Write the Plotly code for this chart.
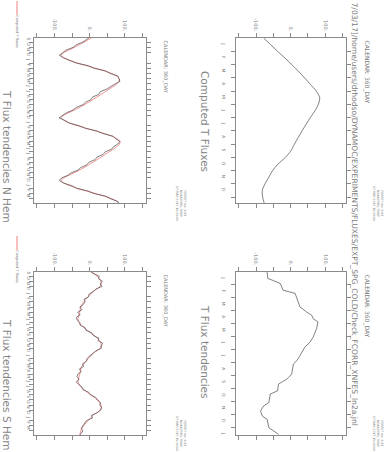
import plotly.graph_objects as go

# ---------------- data ----------------
MONTH_LETTERS = ["J", "F", "M", "A", "M", "J", "J", "A", "S", "O", "N", "D"]
YEAR_LABELS = ["0000", "0001", "0002", "0003"]
YEAR_LABEL_POS = [-2.2, 6.0, 18.0, 25.6]
YEAR_BOUNDS = [0, 12, 24]
VALUE_LABELS = ["-100.", "0.", "100."]
VALUE_LABEL_POS = [-100, 0, 100]
VALUE_MINOR = [-150, -50, 50, 150]

# left panels: months since 1 Jan 0001, half-month sampling
t_left = [-4.0 + 0.5 * i for i in range(65)]

nh_computed = [9, -3, -16, -29, -44, -59, -74, -81,
               -72, -56, -34, -9, 17, 42, 63, 78, 85, 84, 77, 67, 55, 44, 33, 21, 9, -3, -16, -29, -44, -59, -74, -81,
               -72, -56, -34, -9, 17, 42, 63, 78, 86, 85, 77, 67, 55, 44, 33, 21, 9, -3, -16, -29, -44, -59, -74, -81,
               -72, -56, -34, -9, 17, 42, 63, 78, 85]
nh_tend = [2, -10, -20, -38, -47, -66, -77, -86,
           -75, -54, -38, -4, 12, 45, 58, 80, 83, 86, 72, 60, 48, 30, 26, 8, 4, -12, -19, -38, -47, -65, -76, -87,
           -70, -58, -30, -12, 20, 38, 66, 74, 86, 80, 68, 62, 44, 38, 21, 15, -2, -8, -25, -33, -52, -62, -80, -86,
           -74, -50, -37, -5, 13, 46, 60, 80, 84]

sh_computed = [3, 13, 21, 28, 32, 33, 29, 20,
               8, 3, -4, -11, -17, -22, -25, -27, -28, -30, -32, -33, -30, -24, -16, -7, 3, 13, 21, 28, 32, 33, 29, 20,
               8, 3, -4, -11, -17, -22, -25, -27, -28, -30, -32, -33, -30, -24, -16, -7, 3, 13, 21, 28, 32, 33, 29, 20,
               8, 3, -4, -11, -17, -22, -25, -27, -28]
sh_tend = [0, 10, 27, 25, 36, 30, 35, 18,
           11, -2, -3, -16, -13, -18, -28, -22, -34, -27, -38, -35, -28, -27, -13, -10, 6, 10, 26, 24, 37, 33, 33, 17,
           10, -1, -7, -9, -20, -17, -29, -24, -33, -36, -30, -38, -31, -22, -19, -3, 2, 17, 23, 31, 29, 34, 31, 21,
           5, 8, -9, -14, -20, -24, -19, -24, -30]

# right panels: months since 1 Jan (climatological year)
clim_t = [0.5 * i for i in range(26)]
clim_flux = [-78, -58, -38, -17, 3, 22, 40, 57, 74, 84, 80, 70, 57, 45, 33, 22, 11, 1,
             -15, -36, -52, -63, -74, -82, -81, -76]

tend_t = [0.0, 0.49, 0.88, 1.26, 1.4, 1.65, 2.43, 2.69, 3.08, 3.33, 3.59, 3.85, 4.36, 5.02, 5.4,
          5.79, 6.43, 6.82, 7.08, 7.85, 8.12, 8.24, 8.63, 9.15, 9.4, 10.05, 10.31, 10.7, 11.09,
          11.34, 11.99, 12.25, 12.5]
tend_v = [-68, -66, -30, -25, -22, 13, 22, 27, 46, 61, 65, 79, 75, 65, 56, 41, 27, 18, 8, 3, -6,
          -11, -35, -38, -59, -63, -78, -87, -82, -68, -63, -49, -35]

# ---------------- style ----------------
W, H = 387, 452
AX = "#8a8a8a"
TXT = "#7a7a7a"
TITLE = "#858585"
BLACK = "#4a4a4a"
RED = "#f28080"
FONT = "DejaVu Sans"
VRANGE = [-158, 160]


def px(x):
    return x / W


def py(y):
    return 1 - y / H


TL_X = [px(34), px(146)]
TR_X = [px(236), px(346)]
TOP_Y = [py(203), py(38)]
BOT_Y = [py(435), py(272)]

fig = go.Figure()

line_k = dict(color=BLACK, width=0.7)
line_r = dict(color=RED, width=0.9, shape="spline", smoothing=0.6)

# TL : N Hem
fig.add_trace(go.Scatter(x=nh_computed, y=t_left, mode="lines", line=line_r, xaxis="x", yaxis="y", showlegend=False))
fig.add_trace(go.Scatter(x=nh_tend, y=t_left, mode="lines", line=line_k, xaxis="x", yaxis="y", showlegend=False))
# TR : computed fluxes
fig.add_trace(go.Scatter(x=clim_flux, y=clim_t, mode="lines",
                         line=dict(color=BLACK, width=0.7, shape="spline", smoothing=0.8),
                         xaxis="x2", yaxis="y2", showlegend=False))
# BL : S Hem
fig.add_trace(go.Scatter(x=sh_computed, y=t_left, mode="lines", line=line_r, xaxis="x3", yaxis="y3", showlegend=False))
fig.add_trace(go.Scatter(x=sh_tend, y=t_left, mode="lines", line=line_k, xaxis="x3", yaxis="y3", showlegend=False))
# BR : tendencies
fig.add_trace(go.Scatter(x=tend_v, y=tend_t, mode="lines", line=line_k, xaxis="x4", yaxis="y4", showlegend=False))


def value_axis(domain, anchor):
    return dict(domain=domain, anchor=anchor, range=VRANGE, side="top",
                tickvals=VALUE_LABEL_POS, ticktext=VALUE_LABELS, tickangle=90,
                ticks="outside", ticklen=4, tickcolor=AX, tickwidth=0.8,
                minor=dict(tickvals=VALUE_MINOR, ticks="outside", ticklen=4, tickcolor=AX, tickwidth=0.8),
                mirror="allticks", showline=True, linecolor=AX, linewidth=1,
                showgrid=False, zeroline=False, fixedrange=True,
                tickfont=dict(family=FONT, size=5, color=TXT))


def month_axis(domain, anchor, rng, centers, bounds, standoff):
    return dict(domain=domain, anchor=anchor, range=rng,
                tickvals=centers, ticktext=[MONTH_LETTERS[int(c - 0.5) % 12] for c in centers],
                tickangle=90, ticks="outside", ticklen=0.01, ticklabelstandoff=standoff,
                minor=dict(tickvals=bounds, ticks="outside", ticklen=4, tickcolor=AX, tickwidth=0.8),
                mirror="allticks", showline=True, linecolor=AX, linewidth=1,
                showgrid=False, zeroline=False, fixedrange=True,
                tickfont=dict(family=FONT, size=4.5, color=TXT))


left_centers = [m + 0.5 for m in range(-4, 27)]
left_bounds = [m for m in range(-3, 28) if m not in YEAR_BOUNDS]
right_centers_top = [m + 0.5 for m in range(0, 12)]
right_centers_bot = [m + 0.5 for m in range(0, 13)]
right_bounds = [m for m in range(1, 13)]

LEFT_RANGE = [27.8, -3.8]


def year_axis(over, anchor, domain):
    return dict(domain=domain, overlaying=over, anchor=anchor, side="left", range=LEFT_RANGE,
                tickvals=YEAR_LABEL_POS, ticktext=YEAR_LABELS, tickangle=90,
                ticks="outside", ticklen=0.01, ticklabelstandoff=9,
                minor=dict(tickvals=YEAR_BOUNDS, ticks="outside", ticklen=7, tickcolor=AX, tickwidth=0.8),
                mirror="allticks", showline=False, showgrid=False, zeroline=False, fixedrange=True,
                tickfont=dict(family=FONT, size=7, color=TXT))


fig.update_layout(
    width=W, height=H, margin=dict(l=0, r=0, t=0, b=0),
    paper_bgcolor="white", plot_bgcolor="white", showlegend=False,
    xaxis=value_axis(TL_X, "y"),
    yaxis=month_axis(TOP_Y, "x", LEFT_RANGE, left_centers, left_bounds, 1),
    xaxis2=value_axis(TR_X, "y2"),
    yaxis2=month_axis(TOP_Y, "x2", [12.45, 0], right_centers_top, right_bounds, 8),
    xaxis3=value_axis(TL_X, "y3"),
    yaxis3=month_axis(BOT_Y, "x3", LEFT_RANGE, left_centers, left_bounds, 1),
    xaxis4=value_axis(TR_X, "y4"),
    yaxis4=month_axis(BOT_Y, "x4", [12.55, 0], right_centers_bot, right_bounds, 8),
    yaxis5=year_axis("y", "x", TOP_Y),
    yaxis6=year_axis("y3", "x3", BOT_Y),
)

ann = []


def note(text, x, y, size, color=TXT, xa="center", ya="middle"):
    ann.append(dict(text=text, x=px(x), y=py(y), xref="paper", yref="paper", showarrow=False,
                    textangle=90, xanchor=xa, yanchor=ya,
                    font=dict(family=FONT, size=size, color=color)))


# header path
note("7/03/17]/home/users/drhodso/DYNAMOC/EXPERIMENTS/FLUXES/EXPT_SPG_COLD/Check_FCORR_XNFES_ln2a.jnl",
     354, 0, 7.6, ya="top")
# titles
note("Computed T Fluxes", 205, 121, 10.5, color=TITLE)
note("T Flux tendencies", 205, 352, 10.5, color=TITLE)
note("T Flux tendencies N Hem", 7, 156, 10.5, color=TITLE)
note("T Flux tendencies S Hem", 7, 384, 10.5, color=TITLE)
# calendar labels
note("CALENDAR: 360_DAY", 165, 38, 5, ya="top")
note("CALENDAR: 360_DAY", 165, 272, 5, ya="top")
note("CALENDAR: 360_DAY", 367, 38, 6, ya="top")
note("CALENDAR: 360_DAY", 367, 272, 6, ya="top")
# legend text
note("Computed T fluxes", 17, 31, 3.5)
note("Computed T fluxes", 17, 266, 3.5)
# ferret stamps
stamp = "FERRET Ver. 6.93<br>NOAA/PMEL TMAP<br>17-MAR-2017 15:04:44"
for sx, sy in [(181, 203), (181, 433), (378, 203), (378, 433)]:
    note(stamp, sx, sy, 3)

shapes = []
for y0, y1 in [(1, 15), (236, 250)]:
    shapes.append(dict(type="line", xref="paper", yref="paper", x0=px(17), x1=px(17),
                       y0=py(y0), y1=py(y1), line=dict(color=RED, width=1)))

fig.update_layout(annotations=ann, shapes=shapes)

fig.write_html("out.html")
